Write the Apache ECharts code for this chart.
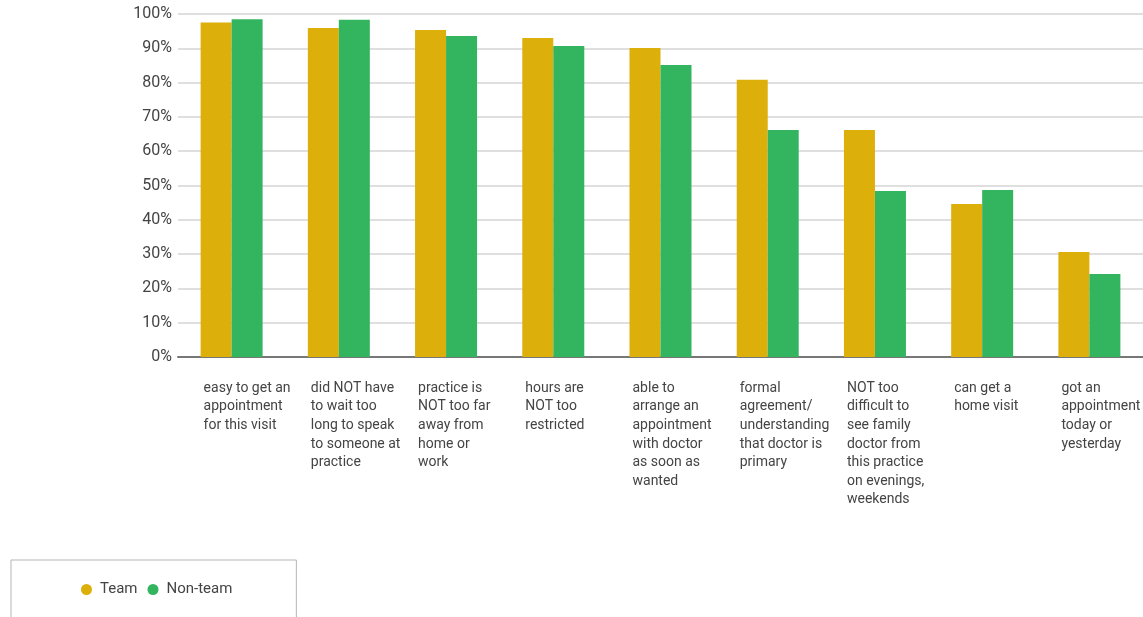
<!DOCTYPE html>
<html>
<head>
<meta charset="utf-8">
<script src="https://cdn.jsdelivr.net/npm/echarts@6/dist/echarts.min.js"></script>
<style>html,body{margin:0;padding:0;background:#fff}#c{width:1143px;height:617px}
#prime{position:absolute;left:-9999px;top:0;font-family:"Roboto";font-size:15px}</style>
</head>
<body>
<div id="prime">Team Non-team 100% easy</div>
<div id="c"></div>
<script>
const categories = [
  'easy to get an\nappointment\nfor this visit',
  'did NOT have\nto wait too\nlong to speak\nto someone at\npractice',
  'practice is\nNOT too far\naway from\nhome or\nwork',
  'hours are\nNOT too\nrestricted',
  'able to\narrange an\nappointment\nwith doctor\nas soon as\nwanted',
  'formal\nagreement/\nunderstanding\nthat doctor is\nprimary',
  'NOT too\ndifficult to\nsee family\ndoctor from\nthis practice\non evenings,\nweekends',
  'can get a\nhome visit',
  'got an\nappointment\ntoday or\nyesterday'
];
const teamValues = [97.5, 95.9, 95.3, 93.0, 90.1, 80.8, 66.2, 44.6, 30.6];
const nonTeamValues = [98.5, 98.3, 93.6, 90.7, 85.1, 66.2, 48.4, 48.7, 24.2];
const seriesNames = ['Team', 'Non-team'];
const yTicks = [0, 10, 20, 30, 40, 50, 60, 70, 80, 90, 100];

const FONT = 'Roboto, "DejaVu Sans", sans-serif';

function draw() {
  const chart = echarts.init(document.getElementById('c'));
  chart.setOption({
    animation: false,
    color: ['#DDAF0A', '#33B560'],
    textStyle: { fontFamily: FONT },
    grid: { left: 178, right: 0, top: 14, bottom: 260, outerBoundsMode: 'none', containLabel: false },
    legend: {
      data: seriesNames,
      left: 11, top: 560,
      icon: 'circle', itemWidth: 11, itemHeight: 11, itemGap: 10,
      borderColor: '#b5b5b5', borderWidth: 1,
      padding: [22, 64, 28, 70],
      textStyle: { fontFamily: FONT, fontSize: 15, color: '#444', padding: [0, 0, 0, 3] }
    },
    xAxis: {
      type: 'category',
      data: categories,
      axisTick: { show: false },
      axisLine: { lineStyle: { color: '#777', width: 2 } },
      axisLabel: {
        interval: 0, align: 'left', verticalAlign: 'top', margin: 22,
        padding: [0, 0, 0, -28],
        fontFamily: FONT, fontSize: 14, lineHeight: 18.6, color: '#444'
      }
    },
    yAxis: {
      type: 'value', min: yTicks[0], max: yTicks[yTicks.length - 1], interval: 10,
      axisLine: { show: false }, axisTick: { show: false },
      splitLine: { lineStyle: { color: '#d4d4d4', width: 1.5 } },
      axisLabel: { formatter: '{value}%', fontFamily: FONT, fontSize: 16, color: '#444', margin: 6 }
    },
    series: [
      { name: seriesNames[0], type: 'bar', data: teamValues, barWidth: 31, barGap: '0%' },
      { name: seriesNames[1], type: 'bar', data: nonTeamValues, barWidth: 31, barGap: '0%' }
    ]
  });
}

if (document.fonts && document.fonts.load) {
  Promise.all([
    document.fonts.load('14px Roboto'),
    document.fonts.load('16px Roboto')
  ]).then(draw, draw);
} else {
  draw();
}
</script>
</body>
</html>
